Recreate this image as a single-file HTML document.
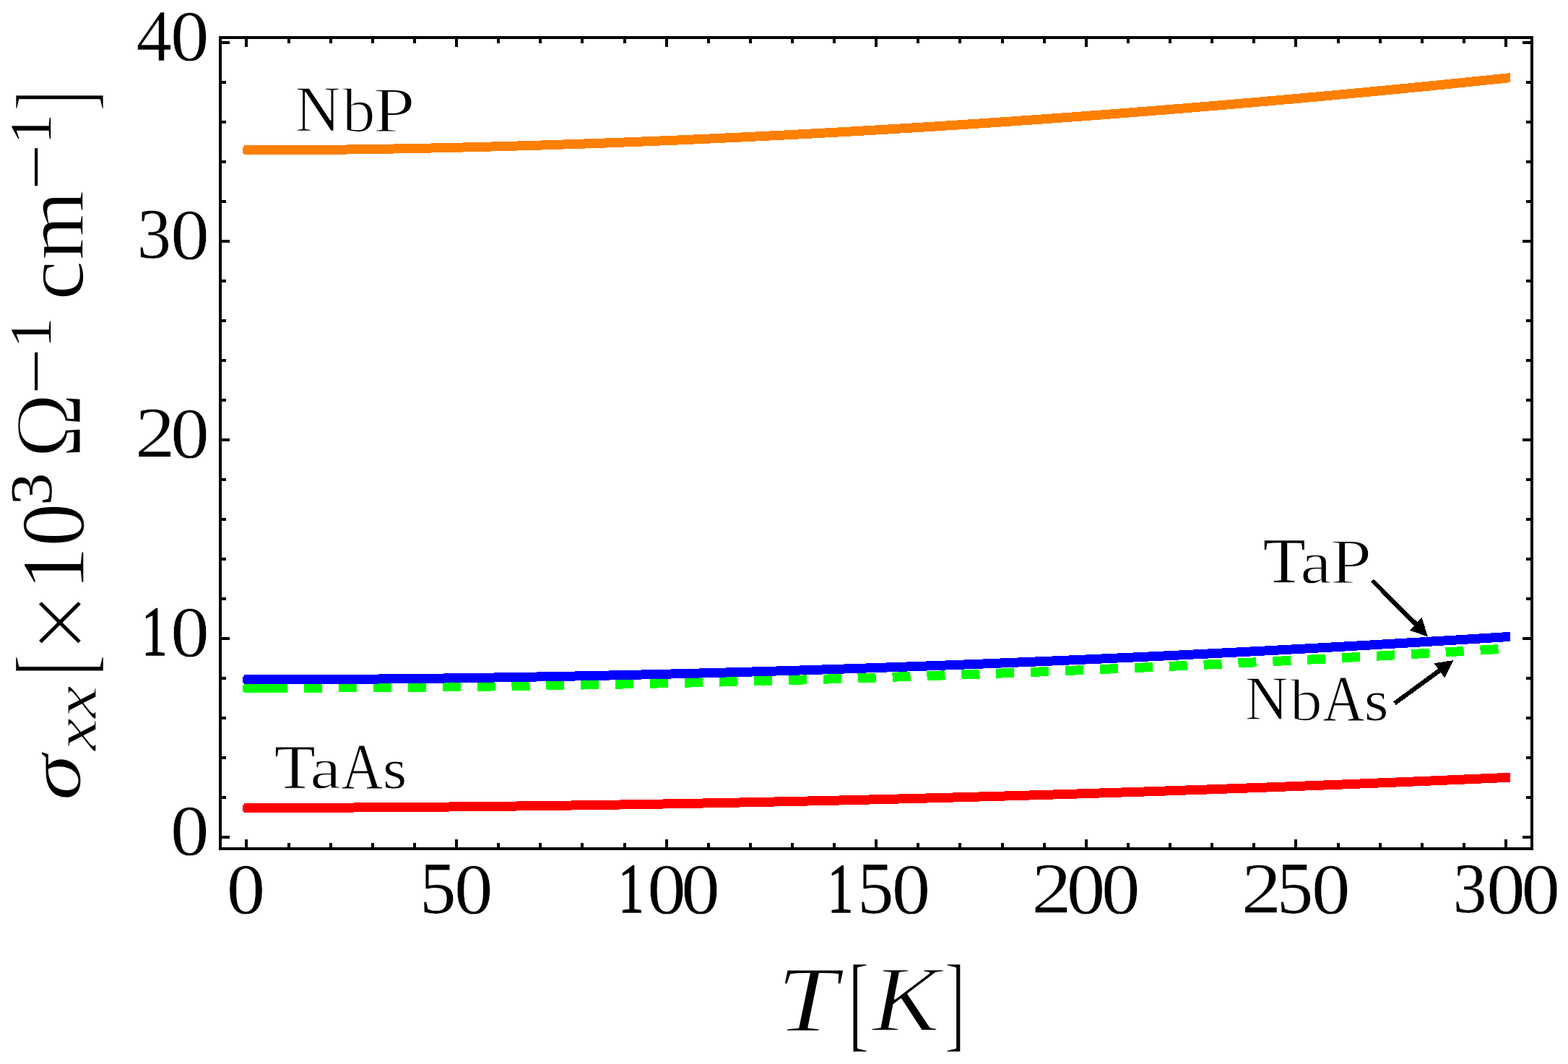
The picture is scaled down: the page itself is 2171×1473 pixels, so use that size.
<!DOCTYPE html>
<html lang="en"><head><meta charset="utf-8"><title>Conductivity vs temperature</title>
<style>html,body{margin:0;padding:0;background:#fff;width:2171px;height:1473px;overflow:hidden}svg{display:block}text{font-family:"Liberation Serif","DejaVu Serif",serif;fill:#000}.it{font-style:italic}</style></head><body>
<svg width="2171" height="1473" viewBox="0 0 2171 1473">
<rect x="0" y="0" width="2171" height="1473" fill="#fff"/>
<g fill="none" stroke-width="13.00" stroke-linejoin="round" shape-rendering="crispEdges">
<polyline points="338.00,207.97 341.40,207.97 353.02,207.96 364.65,207.93 376.27,207.89 387.90,207.84 399.52,207.77 411.15,207.69 422.77,207.61 434.40,207.50 446.02,207.39 457.65,207.27 469.27,207.14 480.90,206.99 492.52,206.84 504.15,206.68 515.77,206.50 527.39,206.32 539.02,206.12 550.64,205.92 562.27,205.71 573.89,205.48 585.52,205.25 597.14,205.01 608.77,204.76 620.39,204.50 632.02,204.23 643.64,203.95 655.27,203.66 666.89,203.37 678.52,203.06 690.14,202.75 701.76,202.42 713.39,202.09 725.01,201.75 736.64,201.40 748.26,201.04 759.89,200.67 771.51,200.30 783.14,199.91 794.76,199.52 806.39,199.12 818.01,198.71 829.64,198.29 841.26,197.87 852.89,197.43 864.51,196.99 876.13,196.54 887.76,196.08 899.38,195.61 911.01,195.13 922.63,194.65 934.26,194.16 945.88,193.66 957.51,193.15 969.13,192.63 980.76,192.11 992.38,191.57 1004.01,191.03 1015.63,190.49 1027.26,189.93 1038.88,189.36 1050.50,188.79 1062.13,188.21 1073.75,187.62 1085.38,187.03 1097.00,186.43 1108.63,185.81 1120.25,185.19 1131.88,184.57 1143.50,183.93 1155.13,183.29 1166.75,182.64 1178.38,181.98 1190.00,181.32 1201.63,180.64 1213.25,179.96 1224.87,179.28 1236.50,178.58 1248.12,177.88 1259.75,177.17 1271.37,176.45 1283.00,175.72 1294.62,174.99 1306.25,174.25 1317.87,173.50 1329.50,172.74 1341.12,171.98 1352.75,171.21 1364.37,170.43 1376.00,169.64 1387.62,168.85 1399.24,168.05 1410.87,167.24 1422.49,166.43 1434.12,165.61 1445.74,164.78 1457.37,163.94 1468.99,163.10 1480.62,162.24 1492.24,161.38 1503.87,160.52 1515.49,159.65 1527.12,158.76 1538.74,157.88 1550.37,156.98 1561.99,156.08 1573.61,155.17 1585.24,154.25 1596.86,153.33 1608.49,152.40 1620.11,151.46 1631.74,150.52 1643.36,149.56 1654.99,148.60 1666.61,147.64 1678.24,146.66 1689.86,145.68 1701.49,144.70 1713.11,143.70 1724.74,142.70 1736.36,141.69 1747.98,140.67 1759.61,139.65 1771.23,138.62 1782.86,137.58 1794.48,136.54 1806.11,135.49 1817.73,134.43 1829.36,133.37 1840.98,132.30 1852.61,131.22 1864.23,130.13 1875.86,129.04 1887.48,127.94 1899.11,126.83 1910.73,125.72 1922.35,124.60 1933.98,123.47 1945.60,122.34 1957.23,121.20 1968.85,120.05 1980.48,118.90 1992.10,117.73 2003.73,116.57 2015.35,115.39 2026.98,114.21 2038.60,113.02 2050.23,111.82 2061.85,110.62 2073.48,109.41 2085.10,108.20 2090.00,107.69 2091.00,107.69" stroke="#ff7f00"/>
<rect x="336" y="204" width="1" height="8" fill="#ff7f00" stroke="none"/><rect x="337" y="203" width="1" height="10" fill="#ff7f00" stroke="none"/>
<polyline points="338.00,1118.45 341.40,1118.45 353.02,1118.45 364.65,1118.44 376.27,1118.42 387.90,1118.40 399.52,1118.37 411.15,1118.34 422.77,1118.30 434.40,1118.26 446.02,1118.22 457.65,1118.17 469.27,1118.11 480.90,1118.05 492.52,1117.99 504.15,1117.92 515.77,1117.85 527.39,1117.78 539.02,1117.70 550.64,1117.61 562.27,1117.52 573.89,1117.43 585.52,1117.34 597.14,1117.24 608.77,1117.13 620.39,1117.02 632.02,1116.91 643.64,1116.80 655.27,1116.68 666.89,1116.55 678.52,1116.43 690.14,1116.30 701.76,1116.16 713.39,1116.02 725.01,1115.88 736.64,1115.74 748.26,1115.59 759.89,1115.44 771.51,1115.28 783.14,1115.12 794.76,1114.96 806.39,1114.79 818.01,1114.62 829.64,1114.44 841.26,1114.27 852.89,1114.08 864.51,1113.90 876.13,1113.71 887.76,1113.52 899.38,1113.32 911.01,1113.13 922.63,1112.92 934.26,1112.72 945.88,1112.51 957.51,1112.30 969.13,1112.08 980.76,1111.86 992.38,1111.64 1004.01,1111.41 1015.63,1111.18 1027.26,1110.95 1038.88,1110.71 1050.50,1110.47 1062.13,1110.23 1073.75,1109.98 1085.38,1109.73 1097.00,1109.48 1108.63,1109.22 1120.25,1108.96 1131.88,1108.70 1143.50,1108.44 1155.13,1108.17 1166.75,1107.89 1178.38,1107.62 1190.00,1107.34 1201.63,1107.06 1213.25,1106.77 1224.87,1106.48 1236.50,1106.19 1248.12,1105.89 1259.75,1105.59 1271.37,1105.29 1283.00,1104.99 1294.62,1104.68 1306.25,1104.37 1317.87,1104.05 1329.50,1103.74 1341.12,1103.41 1352.75,1103.09 1364.37,1102.76 1376.00,1102.43 1387.62,1102.10 1399.24,1101.76 1410.87,1101.42 1422.49,1101.08 1434.12,1100.73 1445.74,1100.38 1457.37,1100.03 1468.99,1099.68 1480.62,1099.32 1492.24,1098.96 1503.87,1098.59 1515.49,1098.22 1527.12,1097.85 1538.74,1097.48 1550.37,1097.10 1561.99,1096.72 1573.61,1096.34 1585.24,1095.95 1596.86,1095.56 1608.49,1095.17 1620.11,1094.77 1631.74,1094.37 1643.36,1093.97 1654.99,1093.57 1666.61,1093.16 1678.24,1092.75 1689.86,1092.33 1701.49,1091.92 1713.11,1091.50 1724.74,1091.07 1736.36,1090.65 1747.98,1090.22 1759.61,1089.79 1771.23,1089.35 1782.86,1088.91 1794.48,1088.47 1806.11,1088.03 1817.73,1087.58 1829.36,1087.13 1840.98,1086.68 1852.61,1086.22 1864.23,1085.77 1875.86,1085.30 1887.48,1084.84 1899.11,1084.37 1910.73,1083.90 1922.35,1083.43 1933.98,1082.95 1945.60,1082.47 1957.23,1081.99 1968.85,1081.50 1980.48,1081.01 1992.10,1080.52 2003.73,1080.03 2015.35,1079.53 2026.98,1079.03 2038.60,1078.53 2050.23,1078.02 2061.85,1077.51 2073.48,1077.00 2085.10,1076.49 2090.00,1076.27 2091.00,1076.27" stroke="#ff0000"/>
<rect x="336" y="1115" width="1" height="8" fill="#ff0000" stroke="none"/><rect x="337" y="1114" width="1" height="10" fill="#ff0000" stroke="none"/>
<polyline points="338.00,952.34 341.40,952.34 353.02,952.33 364.65,952.32 376.27,952.31 387.90,952.29 398.00,952.29" stroke="#00ff00"/>
<rect x="336" y="949" width="1" height="8" fill="#00ff00" stroke="none"/><rect x="337" y="948" width="1" height="10" fill="#00ff00" stroke="none"/>
<polyline points="341.40,952.34 353.02,952.33 364.65,952.32 376.27,952.31 387.90,952.29 399.52,952.26 411.15,952.23 422.77,952.19 434.40,952.14 446.02,952.09 457.65,952.04 469.27,951.98 480.90,951.91 492.52,951.84 504.15,951.77 515.77,951.68 527.39,951.60 539.02,951.51 550.64,951.41 562.27,951.31 573.89,951.20 585.52,951.09 597.14,950.97 608.77,950.85 620.39,950.73 632.02,950.60 643.64,950.46 655.27,950.32 666.89,950.17 678.52,950.02 690.14,949.87 701.76,949.70 713.39,949.54 725.01,949.37 736.64,949.19 748.26,949.01 759.89,948.83 771.51,948.64 783.14,948.45 794.76,948.25 806.39,948.04 818.01,947.83 829.64,947.62 841.26,947.40 852.89,947.18 864.51,946.95 876.13,946.72 887.76,946.48 899.38,946.24 911.01,946.00 922.63,945.75 934.26,945.49 945.88,945.23 957.51,944.96 969.13,944.70 980.76,944.42 992.38,944.14 1004.01,943.86 1015.63,943.57 1027.26,943.28 1038.88,942.98 1050.50,942.68 1062.13,942.37 1073.75,942.06 1085.38,941.75 1097.00,941.43 1108.63,941.10 1120.25,940.77 1131.88,940.44 1143.50,940.10 1155.13,939.76 1166.75,939.41 1178.38,939.06 1190.00,938.70 1201.63,938.34 1213.25,937.98 1224.87,937.61 1236.50,937.23 1248.12,936.85 1259.75,936.47 1271.37,936.08 1283.00,935.69 1294.62,935.29 1306.25,934.89 1317.87,934.49 1329.50,934.08 1341.12,933.66 1352.75,933.24 1364.37,932.82 1376.00,932.39 1387.62,931.96 1399.24,931.52 1410.87,931.08 1422.49,930.63 1434.12,930.18 1445.74,929.73 1457.37,929.27 1468.99,928.81 1480.62,928.34 1492.24,927.87 1503.87,927.39 1515.49,926.91 1527.12,926.42 1538.74,925.93 1550.37,925.44 1561.99,924.94 1573.61,924.44 1585.24,923.93 1596.86,923.42 1608.49,922.90 1620.11,922.38 1631.74,921.86 1643.36,921.33 1654.99,920.79 1666.61,920.25 1678.24,919.71 1689.86,919.16 1701.49,918.61 1713.11,918.06 1724.74,917.50 1736.36,916.93 1747.98,916.36 1759.61,915.79 1771.23,915.21 1782.86,914.63 1794.48,914.05 1806.11,913.46 1817.73,912.86 1829.36,912.26 1840.98,911.66 1852.61,911.05 1864.23,910.44 1875.86,909.82 1887.48,909.20 1899.11,908.58 1910.73,907.95 1922.35,907.32 1933.98,906.68 1945.60,906.04 1957.23,905.39 1968.85,904.74 1980.48,904.08 1992.10,903.43 2003.73,902.76 2015.35,902.09 2026.98,901.42 2038.60,900.75 2050.23,900.06 2061.85,899.38 2073.48,898.69 2085.10,898.00" stroke="#00ff00" stroke-dasharray="25 22.93" stroke-dashoffset="-31.60"/>
<polyline points="338.00,940.92 341.40,940.92 353.02,940.92 364.65,940.90 376.27,940.88 387.90,940.85 399.52,940.82 411.15,940.77 422.77,940.72 434.40,940.66 446.02,940.60 457.65,940.53 469.27,940.45 480.90,940.37 492.52,940.28 504.15,940.19 515.77,940.09 527.39,939.98 539.02,939.87 550.64,939.75 562.27,939.63 573.89,939.50 585.52,939.37 597.14,939.23 608.77,939.08 620.39,938.93 632.02,938.77 643.64,938.61 655.27,938.44 666.89,938.27 678.52,938.09 690.14,937.91 701.76,937.72 713.39,937.53 725.01,937.33 736.64,937.13 748.26,936.92 759.89,936.70 771.51,936.48 783.14,936.26 794.76,936.03 806.39,935.79 818.01,935.55 829.64,935.31 841.26,935.06 852.89,934.80 864.51,934.54 876.13,934.28 887.76,934.01 899.38,933.73 911.01,933.45 922.63,933.17 934.26,932.88 945.88,932.59 957.51,932.29 969.13,931.98 980.76,931.67 992.38,931.36 1004.01,931.04 1015.63,930.72 1027.26,930.39 1038.88,930.06 1050.50,929.72 1062.13,929.38 1073.75,929.03 1085.38,928.68 1097.00,928.32 1108.63,927.96 1120.25,927.60 1131.88,927.23 1143.50,926.85 1155.13,926.47 1166.75,926.09 1178.38,925.70 1190.00,925.31 1201.63,924.91 1213.25,924.51 1224.87,924.10 1236.50,923.69 1248.12,923.27 1259.75,922.85 1271.37,922.42 1283.00,921.99 1294.62,921.56 1306.25,921.12 1317.87,920.68 1329.50,920.23 1341.12,919.77 1352.75,919.32 1364.37,918.86 1376.00,918.39 1387.62,917.92 1399.24,917.44 1410.87,916.96 1422.49,916.48 1434.12,915.99 1445.74,915.50 1457.37,915.00 1468.99,914.50 1480.62,913.99 1492.24,913.48 1503.87,912.97 1515.49,912.45 1527.12,911.92 1538.74,911.40 1550.37,910.86 1561.99,910.33 1573.61,909.78 1585.24,909.24 1596.86,908.69 1608.49,908.13 1620.11,907.58 1631.74,907.01 1643.36,906.45 1654.99,905.87 1666.61,905.30 1678.24,904.72 1689.86,904.13 1701.49,903.54 1713.11,902.95 1724.74,902.35 1736.36,901.75 1747.98,901.15 1759.61,900.54 1771.23,899.92 1782.86,899.30 1794.48,898.68 1806.11,898.05 1817.73,897.42 1829.36,896.78 1840.98,896.14 1852.61,895.50 1864.23,894.85 1875.86,894.20 1887.48,893.54 1899.11,892.88 1910.73,892.21 1922.35,891.54 1933.98,890.87 1945.60,890.19 1957.23,889.51 1968.85,888.82 1980.48,888.13 1992.10,887.44 2003.73,886.74 2015.35,886.04 2026.98,885.33 2038.60,884.62 2050.23,883.90 2061.85,883.18 2073.48,882.46 2085.10,881.73 2090.00,881.42 2091.00,881.42" stroke="#0000ff"/>
<rect x="336" y="937" width="1" height="8" fill="#0000ff" stroke="none"/><rect x="337" y="936" width="1" height="10" fill="#0000ff" stroke="none"/>
</g>
<g fill="#000" shape-rendering="crispEdges">
<rect x="303" y="50" width="1820" height="4"/>
<rect x="303" y="1173" width="1820" height="4"/>
<rect x="303" y="50" width="4" height="1127"/>
<rect x="2119" y="50" width="4" height="1127"/>
<rect x="339" y="54" width="4" height="11"/>
<rect x="339" y="1162" width="4" height="11"/>
<rect x="398" y="54" width="4" height="6"/>
<rect x="398" y="1167" width="4" height="6"/>
<rect x="456" y="54" width="4" height="6"/>
<rect x="456" y="1167" width="4" height="6"/>
<rect x="514" y="54" width="4" height="6"/>
<rect x="514" y="1167" width="4" height="6"/>
<rect x="572" y="54" width="4" height="6"/>
<rect x="572" y="1167" width="4" height="6"/>
<rect x="630" y="54" width="4" height="11"/>
<rect x="630" y="1162" width="4" height="11"/>
<rect x="688" y="54" width="4" height="6"/>
<rect x="688" y="1167" width="4" height="6"/>
<rect x="746" y="54" width="4" height="6"/>
<rect x="746" y="1167" width="4" height="6"/>
<rect x="804" y="54" width="4" height="6"/>
<rect x="804" y="1167" width="4" height="6"/>
<rect x="863" y="54" width="4" height="6"/>
<rect x="863" y="1167" width="4" height="6"/>
<rect x="921" y="54" width="4" height="11"/>
<rect x="921" y="1162" width="4" height="11"/>
<rect x="979" y="54" width="4" height="6"/>
<rect x="979" y="1167" width="4" height="6"/>
<rect x="1037" y="54" width="4" height="6"/>
<rect x="1037" y="1167" width="4" height="6"/>
<rect x="1095" y="54" width="4" height="6"/>
<rect x="1095" y="1167" width="4" height="6"/>
<rect x="1153" y="54" width="4" height="6"/>
<rect x="1153" y="1167" width="4" height="6"/>
<rect x="1211" y="54" width="4" height="11"/>
<rect x="1211" y="1162" width="4" height="11"/>
<rect x="1269" y="54" width="4" height="6"/>
<rect x="1269" y="1167" width="4" height="6"/>
<rect x="1327" y="54" width="4" height="6"/>
<rect x="1327" y="1167" width="4" height="6"/>
<rect x="1386" y="54" width="4" height="6"/>
<rect x="1386" y="1167" width="4" height="6"/>
<rect x="1444" y="54" width="4" height="6"/>
<rect x="1444" y="1167" width="4" height="6"/>
<rect x="1502" y="54" width="4" height="11"/>
<rect x="1502" y="1162" width="4" height="11"/>
<rect x="1560" y="54" width="4" height="6"/>
<rect x="1560" y="1167" width="4" height="6"/>
<rect x="1618" y="54" width="4" height="6"/>
<rect x="1618" y="1167" width="4" height="6"/>
<rect x="1676" y="54" width="4" height="6"/>
<rect x="1676" y="1167" width="4" height="6"/>
<rect x="1734" y="54" width="4" height="6"/>
<rect x="1734" y="1167" width="4" height="6"/>
<rect x="1792" y="54" width="4" height="11"/>
<rect x="1792" y="1162" width="4" height="11"/>
<rect x="1851" y="54" width="4" height="6"/>
<rect x="1851" y="1167" width="4" height="6"/>
<rect x="1909" y="54" width="4" height="6"/>
<rect x="1909" y="1167" width="4" height="6"/>
<rect x="1967" y="54" width="4" height="6"/>
<rect x="1967" y="1167" width="4" height="6"/>
<rect x="2025" y="54" width="4" height="6"/>
<rect x="2025" y="1167" width="4" height="6"/>
<rect x="2083" y="54" width="4" height="11"/>
<rect x="2083" y="1162" width="4" height="11"/>
<rect x="307" y="1157" width="11" height="4"/>
<rect x="2108" y="1157" width="11" height="4"/>
<rect x="307" y="1102" width="6" height="4"/>
<rect x="2113" y="1102" width="6" height="4"/>
<rect x="307" y="1047" width="6" height="4"/>
<rect x="2113" y="1047" width="6" height="4"/>
<rect x="307" y="992" width="6" height="4"/>
<rect x="2113" y="992" width="6" height="4"/>
<rect x="307" y="937" width="6" height="4"/>
<rect x="2113" y="937" width="6" height="4"/>
<rect x="307" y="882" width="11" height="4"/>
<rect x="2108" y="882" width="11" height="4"/>
<rect x="307" y="827" width="6" height="4"/>
<rect x="2113" y="827" width="6" height="4"/>
<rect x="307" y="772" width="6" height="4"/>
<rect x="2113" y="772" width="6" height="4"/>
<rect x="307" y="717" width="6" height="4"/>
<rect x="2113" y="717" width="6" height="4"/>
<rect x="307" y="662" width="6" height="4"/>
<rect x="2113" y="662" width="6" height="4"/>
<rect x="307" y="607" width="11" height="4"/>
<rect x="2108" y="607" width="11" height="4"/>
<rect x="307" y="552" width="6" height="4"/>
<rect x="2113" y="552" width="6" height="4"/>
<rect x="307" y="497" width="6" height="4"/>
<rect x="2113" y="497" width="6" height="4"/>
<rect x="307" y="442" width="6" height="4"/>
<rect x="2113" y="442" width="6" height="4"/>
<rect x="307" y="387" width="6" height="4"/>
<rect x="2113" y="387" width="6" height="4"/>
<rect x="307" y="332" width="11" height="4"/>
<rect x="2108" y="332" width="11" height="4"/>
<rect x="307" y="277" width="6" height="4"/>
<rect x="2113" y="277" width="6" height="4"/>
<rect x="307" y="222" width="6" height="4"/>
<rect x="2113" y="222" width="6" height="4"/>
<rect x="307" y="167" width="6" height="4"/>
<rect x="2113" y="167" width="6" height="4"/>
<rect x="307" y="112" width="6" height="4"/>
<rect x="2113" y="112" width="6" height="4"/>
<rect x="307" y="57" width="11" height="4"/>
<rect x="2108" y="57" width="11" height="4"/>
</g>
<g fill="#000" shape-rendering="crispEdges">
<polygon points="1897.99,805.78 1958.42,867.10 1963.30,862.21 1901.87,801.88"/><polygon points="1976.90,881.40 1951.60,872.70 1968.70,855.20"/>
<polygon points="1932.72,976.10 1995.60,930.39 1991.82,925.23 1929.18,971.26"/><polygon points="2012.60,914.10 1985.50,918.20 2000.30,938.60"/>
</g>
<text aria-label="40" stroke="#fff" stroke-width="0" stroke-linejoin="round"><tspan x="188.72" y="83.77" font-size="100.97" textLength="49.17" lengthAdjust="spacingAndGlyphs" stroke-width="0.63">4</tspan><tspan x="236.06" y="83.33" font-size="98.71" textLength="53.49" lengthAdjust="spacingAndGlyphs" stroke-width="0.53">0</tspan></text>
<text aria-label="30" stroke="#fff" stroke-width="0" stroke-linejoin="round"><tspan x="189.97" y="357.39" font-size="99.09" textLength="46.82" lengthAdjust="spacingAndGlyphs" stroke-width="0.29">3</tspan><tspan x="236.25" y="358.33" font-size="98.73" textLength="53.50" lengthAdjust="spacingAndGlyphs" stroke-width="0.54">0</tspan></text>
<text aria-label="20" stroke="#fff" stroke-width="0" stroke-linejoin="round"><tspan x="186.92" y="632.32" font-size="99.61" textLength="55.55" lengthAdjust="spacingAndGlyphs" stroke-width="0.74">2</tspan><tspan x="236.15" y="633.33" font-size="98.73" textLength="53.50" lengthAdjust="spacingAndGlyphs" stroke-width="0.54">0</tspan></text>
<text aria-label="10" stroke="#fff" stroke-width="0" stroke-linejoin="round"><tspan x="195.98" y="907.25" font-size="97.08" textLength="35.70" lengthAdjust="spacingAndGlyphs" stroke="#000" stroke-width="1.41">1</tspan><tspan x="236.15" y="908.33" font-size="98.73" textLength="53.50" lengthAdjust="spacingAndGlyphs" stroke-width="0.54">0</tspan></text>
<text aria-label="0" stroke="#fff" stroke-width="0" stroke-linejoin="round"><tspan x="236.06" y="1183.33" font-size="98.71" textLength="53.49" lengthAdjust="spacingAndGlyphs" stroke-width="0.53">0</tspan></text>
<text aria-label="0" stroke="#fff" stroke-width="0" stroke-linejoin="round"><tspan x="313.86" y="1264.28" font-size="98.71" textLength="53.49" lengthAdjust="spacingAndGlyphs" stroke-width="0.53">0</tspan></text>
<text aria-label="50" stroke="#fff" stroke-width="0" stroke-linejoin="round"><tspan x="581.32" y="1264.09" font-size="101.35" textLength="50.13" lengthAdjust="spacingAndGlyphs" stroke-width="0.20">5</tspan><tspan x="628.96" y="1264.28" font-size="98.71" textLength="53.49" lengthAdjust="spacingAndGlyphs" stroke-width="0.53">0</tspan></text>
<text aria-label="100" stroke="#fff" stroke-width="0" stroke-linejoin="round"><tspan x="856.08" y="1263.19" font-size="97.08" textLength="35.70" lengthAdjust="spacingAndGlyphs" stroke="#000" stroke-width="1.41">1</tspan><tspan x="896.28" y="1264.28" font-size="98.73" textLength="53.50" lengthAdjust="spacingAndGlyphs" stroke-width="0.54">0</tspan><tspan x="943.35" y="1264.28" font-size="98.73" textLength="53.50" lengthAdjust="spacingAndGlyphs" stroke-width="0.54">0</tspan></text>
<text aria-label="150" stroke="#fff" stroke-width="0" stroke-linejoin="round"><tspan x="1145.77" y="1263.20" font-size="97.10" textLength="35.71" lengthAdjust="spacingAndGlyphs" stroke="#000" stroke-width="1.40">1</tspan><tspan x="1187.32" y="1264.10" font-size="101.40" textLength="50.16" lengthAdjust="spacingAndGlyphs" stroke-width="0.23">5</tspan><tspan x="1234.76" y="1264.28" font-size="98.71" textLength="53.49" lengthAdjust="spacingAndGlyphs" stroke-width="0.53">0</tspan></text>
<text aria-label="200" stroke="#fff" stroke-width="0" stroke-linejoin="round"><tspan x="1428.33" y="1263.28" font-size="99.61" textLength="55.55" lengthAdjust="spacingAndGlyphs" stroke-width="0.74">2</tspan><tspan x="1476.76" y="1264.28" font-size="98.71" textLength="53.49" lengthAdjust="spacingAndGlyphs" stroke-width="0.53">0</tspan><tspan x="1524.96" y="1264.28" font-size="98.71" textLength="53.49" lengthAdjust="spacingAndGlyphs" stroke-width="0.53">0</tspan></text>
<text aria-label="250" stroke="#fff" stroke-width="0" stroke-linejoin="round"><tspan x="1718.73" y="1263.22" font-size="99.61" textLength="55.55" lengthAdjust="spacingAndGlyphs" stroke-width="0.74">2</tspan><tspan x="1768.06" y="1264.11" font-size="101.41" textLength="50.17" lengthAdjust="spacingAndGlyphs" stroke-width="0.24">5</tspan><tspan x="1816.06" y="1264.28" font-size="98.71" textLength="53.49" lengthAdjust="spacingAndGlyphs" stroke-width="0.53">0</tspan></text>
<text aria-label="300" stroke="#fff" stroke-width="0" stroke-linejoin="round"><tspan x="2011.79" y="1263.31" font-size="99.06" textLength="46.79" lengthAdjust="spacingAndGlyphs" stroke-width="0.27">3</tspan><tspan x="2058.35" y="1264.28" font-size="98.73" textLength="53.50" lengthAdjust="spacingAndGlyphs" stroke-width="0.54">0</tspan><tspan x="2106.56" y="1264.28" font-size="98.71" textLength="53.49" lengthAdjust="spacingAndGlyphs" stroke-width="0.53">0</tspan></text>
<text aria-label="NbP" stroke="#fff" stroke-width="0" stroke-linejoin="round"><tspan x="408.54" y="181.84" font-size="90.14" textLength="63.05" lengthAdjust="spacingAndGlyphs" stroke-width="1.49">N</tspan><tspan x="473.50" y="182.00" font-size="86.91" textLength="46.35" lengthAdjust="spacingAndGlyphs" stroke-width="1.74">b</tspan><tspan x="516.22" y="181.98" font-size="89.88" textLength="58.45" lengthAdjust="spacingAndGlyphs" stroke-width="1.77">P</tspan></text>
<text aria-label="TaAs" stroke="#fff" stroke-width="0" stroke-linejoin="round"><tspan x="379.71" y="1090.96" font-size="85.92" textLength="57.00" lengthAdjust="spacingAndGlyphs" stroke-width="0.85">T</tspan><tspan x="429.19" y="1090.92" font-size="80.55" textLength="43.11" lengthAdjust="spacingAndGlyphs" stroke-width="1.26">a</tspan><tspan x="472.80" y="1091.98" font-size="89.95" textLength="57.28" lengthAdjust="spacingAndGlyphs" stroke-width="1.02">A</tspan><tspan x="530.07" y="1090.72" font-size="78.79" textLength="33.26" lengthAdjust="spacingAndGlyphs" stroke-width="0.82">s</tspan></text>
<text aria-label="TaP" stroke="#fff" stroke-width="0" stroke-linejoin="round"><tspan x="1748.49" y="806.27" font-size="88.83" textLength="59.32" lengthAdjust="spacingAndGlyphs" stroke-width="0.74">T</tspan><tspan x="1800.21" y="806.96" font-size="83.14" textLength="43.37" lengthAdjust="spacingAndGlyphs" stroke-width="1.39">a</tspan><tspan x="1841.46" y="806.78" font-size="89.73" textLength="57.88" lengthAdjust="spacingAndGlyphs" stroke-width="1.77">P</tspan></text>
<text aria-label="NbAs" stroke="#fff" stroke-width="0" stroke-linejoin="round"><tspan x="1723.85" y="996.47" font-size="86.37" textLength="59.76" lengthAdjust="spacingAndGlyphs" stroke-width="1.34">N</tspan><tspan x="1785.80" y="996.80" font-size="83.54" textLength="45.09" lengthAdjust="spacingAndGlyphs" stroke-width="1.68">b</tspan><tspan x="1831.60" y="997.83" font-size="89.94" textLength="57.48" lengthAdjust="spacingAndGlyphs" stroke-width="1.01">A</tspan><tspan x="1888.84" y="996.69" font-size="79.52" textLength="33.82" lengthAdjust="spacingAndGlyphs" stroke-width="0.97">s</tspan></text>
<text aria-label="T[K]" stroke="#fff" stroke-width="0" stroke-linejoin="round"><tspan x="1075.52" y="1426.96" font-size="128.66" textLength="84.16" lengthAdjust="spacingAndGlyphs" class="it" stroke-width="1.93">T</tspan><tspan x="1174.17" y="1436.97" font-size="147.83" textLength="29.31" lengthAdjust="spacingAndGlyphs" stroke-width="2.26">[</tspan><tspan x="1207.19" y="1427.21" font-size="129.43" textLength="93.97" lengthAdjust="spacingAndGlyphs" class="it" stroke-width="2.43">K</tspan><tspan x="1307.83" y="1437.05" font-size="148.12" textLength="28.72" lengthAdjust="spacingAndGlyphs" stroke-width="2.50">]</tspan></text>
<text transform="rotate(-90)" aria-label="σxx[×10^3 Ω^−1 cm^−1]" stroke="#fff" stroke-width="0" stroke-linejoin="round"><tspan x="-1108.25" y="110.55" font-size="102.95" textLength="63.72" lengthAdjust="spacingAndGlyphs" class="it" stroke-width="0.95">σ</tspan><tspan x="-1039.22" y="132.84" font-size="84.35" textLength="90.15" lengthAdjust="spacingAndGlyphs" class="it" stroke-width="1.28">xx</tspan><tspan x="-935.87" y="124.16" font-size="148.13" textLength="29.38" lengthAdjust="spacingAndGlyphs" stroke-width="2.31">[</tspan><tspan x="-904.10" y="132.94" font-size="150.05" textLength="84.35" lengthAdjust="spacingAndGlyphs" stroke-width="2.47">×</tspan><tspan x="-816.88" y="115.59" font-size="125.02" textLength="120.33" lengthAdjust="spacingAndGlyphs" stroke-width="1.29">10</tspan><tspan x="-699.86" y="71.23" font-size="82.55" textLength="45.01" lengthAdjust="spacingAndGlyphs" stroke-width="0.11">3</tspan><tspan x="-634.54" y="112.12" font-size="133.48" textLength="90.58" lengthAdjust="spacingAndGlyphs" stroke-width="2.90">Ω</tspan><tspan x="-545.73" y="77.62" font-size="84.00" textLength="63.55" lengthAdjust="spacingAndGlyphs">−</tspan><tspan x="-482.22" y="70.19" font-size="81.94" textLength="42.96" lengthAdjust="spacingAndGlyphs" stroke-width="0.57">1</tspan><tspan x="-415.76" y="114.59" font-size="117.67" textLength="151.83" lengthAdjust="spacingAndGlyphs" stroke-width="1.58">cm</tspan><tspan x="-262.80" y="77.62" font-size="84.00" textLength="63.19" lengthAdjust="spacingAndGlyphs">−</tspan><tspan x="-199.91" y="70.17" font-size="81.88" textLength="42.47" lengthAdjust="spacingAndGlyphs" stroke-width="0.53">1</tspan><tspan x="-153.74" y="124.25" font-size="148.48" textLength="28.72" lengthAdjust="spacingAndGlyphs" stroke-width="2.60">]</tspan></text>
</svg></body></html>
